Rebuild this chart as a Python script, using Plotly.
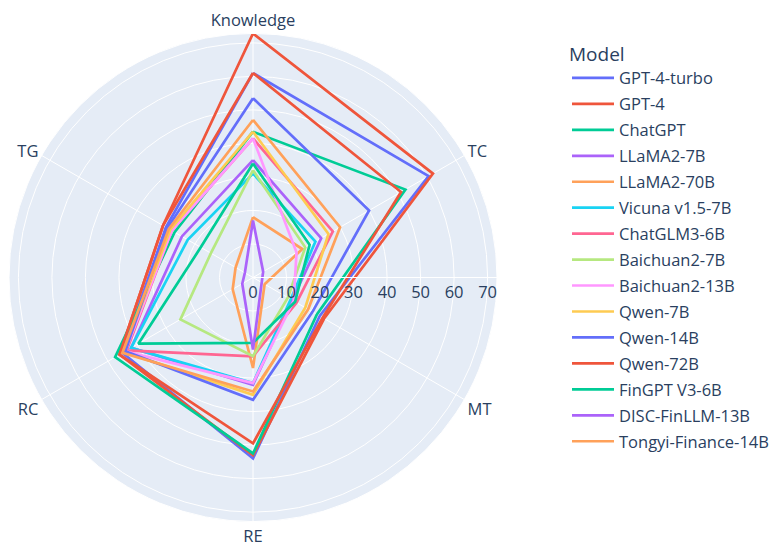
import plotly.graph_objects as go

categories = ["Knowledge", "TC", "MT", "RE", "RC", "TG"]

models = ["GPT-4-turbo", "GPT-4", "ChatGPT", "LLaMA2-7B", "LLaMA2-70B",
          "Vicuna v1.5-7B", "ChatGLM3-6B", "Baichuan2-7B", "Baichuan2-13B",
          "Qwen-7B", "Qwen-14B", "Qwen-72B", "FinGPT V3-6B", "DISC-FinLLM-13B",
          "Tongyi-Finance-14B"]

# values per model, in category order: Knowledge, TC, MT, RE, RC, TG
gpt4_turbo = [61.0, 60.5, 23.0, 54.0, 45.0, 30.0]
gpt4 = [72.8, 62.0, 24.5, 53.0, 46.0, 31.0]
chatgpt = [43.5, 52.5, 22.0, 52.5, 47.5, 27.0]
llama2_7b = [35.0, 23.5, 13.5, 32.0, 42.0, 24.5]
llama2_70b = [18.0, 17.0, 4.0, 27.0, 7.0, 6.0]
vicuna = [31.0, 21.5, 13.0, 31.5, 42.0, 22.5]
chatglm3 = [41.5, 27.5, 15.0, 23.5, 43.5, 28.0]
baichuan2_7b = [32.0, 18.0, 12.0, 23.5, 25.0, 14.5]
baichuan2_13b = [41.5, 15.0, 14.0, 31.5, 44.0, 28.0]
qwen_7b = [43.5, 26.0, 18.0, 35.0, 44.5, 28.5]
qwen_14b = [53.5, 40.0, 20.5, 36.5, 44.0, 29.5]
qwen_72b = [61.0, 51.0, 24.0, 49.5, 46.0, 31.0]
fingpt = [34.0, 19.5, 14.5, 19.5, 39.5, 18.0]
disc = [17.0, 3.5, 3.0, 21.5, 3.7, 2.8]
tongyi = [47.0, 30.0, 19.0, 34.0, 45.0, 29.0]

series = [gpt4_turbo, gpt4, chatgpt, llama2_7b, llama2_70b, vicuna, chatglm3,
          baichuan2_7b, baichuan2_13b, qwen_7b, qwen_14b, qwen_72b, fingpt,
          disc, tongyi]

colors = ["#636efa", "#EF553B", "#00cc96", "#ab63fa", "#FFA15A", "#19d3f3",
          "#FF6692", "#B6E880", "#FF97FF", "#FECB52"]

fig = go.Figure()
for i, (name, vals) in enumerate(zip(models, series)):
    fig.add_trace(go.Scatterpolar(
        r=vals + [vals[0]],
        theta=categories + [categories[0]],
        mode="lines",
        name=name,
        legendgroup=name,
        line=dict(color=colors[i % len(colors)], width=2.7),
    ))

fig.update_layout(
    template="plotly",
    width=771, height=547,
    font=dict(family="Open Sans", size=16.5, color="#2a3f5f"),
    margin=dict(l=0, r=0, t=0, b=0, autoexpand=False),
    polar=dict(
        domain=dict(x=[9/771, 497/771], y=[1 - 521.5/547, 1 - 33.5/547]),
        angularaxis=dict(direction="clockwise", rotation=90,
                         categoryorder="array", categoryarray=categories),
        radialaxis=dict(angle=0, dtick=10),
    ),
    legend=dict(title=dict(text="Model", font=dict(size=19)),
                x=567/771, y=1 - 36/547, xanchor="left", yanchor="top",
                itemwidth=42, tracegroupgap=1.5, font=dict(size=16.5)),
)

fig.write_html("out.html", config={"displayModeBar": False},
               post_script="document.body.style.margin='0';")
